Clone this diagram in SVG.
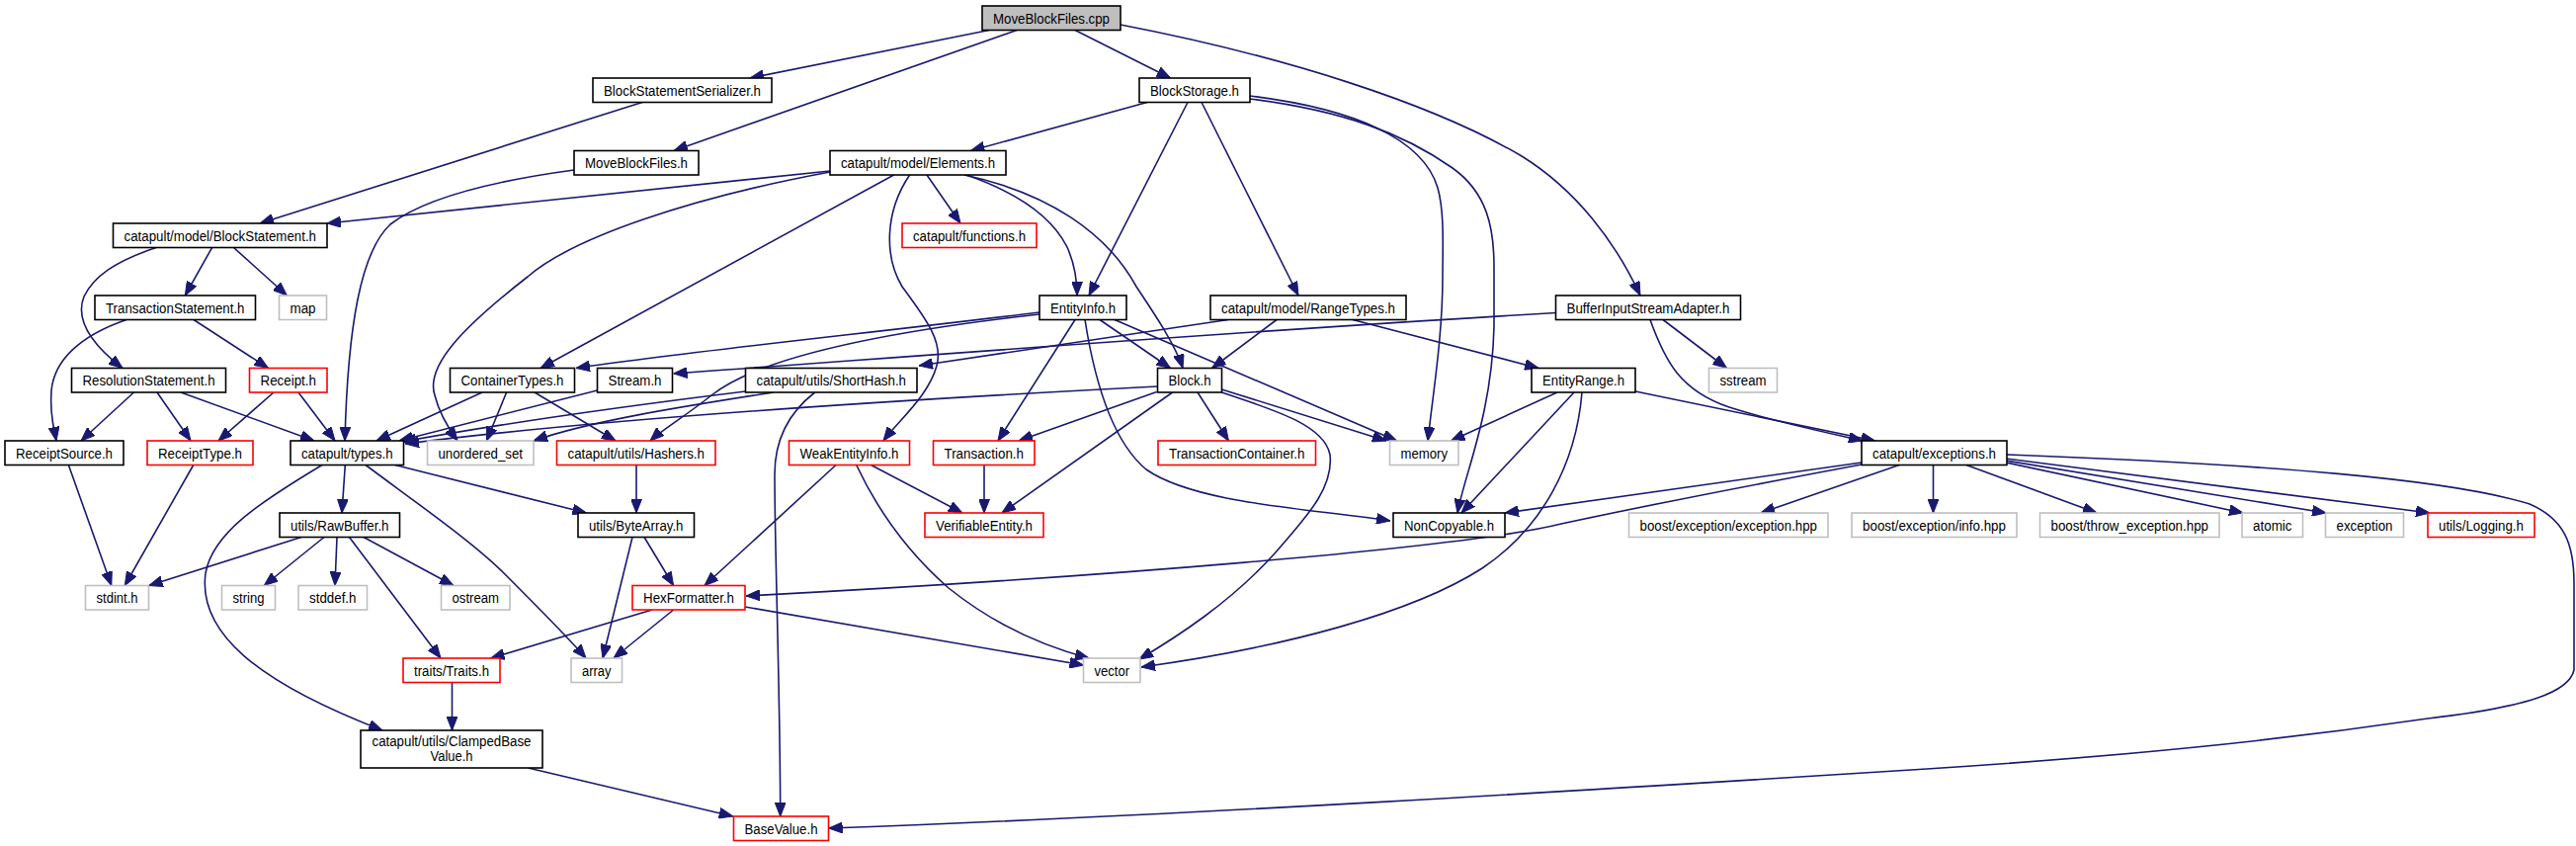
<svg xmlns="http://www.w3.org/2000/svg" width="2607" height="856" viewBox="0 0 2607 856">
<style>
rect{fill:#fff;stroke:#000;stroke-width:1.6}
rect.g{stroke:#bfbfbf}
rect.r{stroke:#ff0000}
rect.root{fill:#bfbfbf}
text{font-family:"Liberation Sans",Arial,sans-serif;font-size:14px;text-anchor:middle;fill:#000}
.e path{fill:none;stroke:#191970;stroke-width:1.6;marker-end:url(#ah)}
</style>
<defs>
<marker id="ah" markerUnits="userSpaceOnUse" markerWidth="14" markerHeight="11" viewBox="0 0 14 11" refX="14" refY="5.5" orient="auto"><path d="M0,0 L14,5.5 L0,11 z" fill="#191970" stroke="#191970" stroke-width="1"/></marker>
</defs>
<rect x="0" y="0" width="2607" height="856" style="fill:#fff;stroke:none"/>
<g class="e" id="connectors">
<path d="M1001,30.5 L759,79"/>
<path d="M1029,30.5 L682,152.5"/>
<path d="M1088,30.5 L1184.5,79"/>
<path d="M1134,25 C1300,57 1450,105 1540,158 C1595,192 1635,245 1660,299"/>
<path d="M650,103.5 L263,226"/>
<path d="M581,172 C500,183 430,200 395,227 C365,255 352,330 349,446"/>
<path d="M1161,103.5 L982.5,152.5"/>
<path d="M1202,103.5 L1102,299"/>
<path d="M1216,103.5 L1314,299"/>
<path d="M1265,97 C1370,110 1440,140 1455,190 C1462,215 1460,250 1460,280 C1460,340 1450,400 1445,446"/>
<path d="M1265,100 C1360,112 1420,135 1470,170 C1505,195 1512,230 1512,270 L1512,330 C1510,420 1482,480 1475,519"/>
<path d="M840,173 L331,226"/>
<path d="M840,174 C700,200 580,240 534,280 C470,330 430,370 440,400 C445,420 455,435 463,446"/>
<path d="M904.6,177 L547,372.5"/>
<path d="M938,177 L972,226"/>
<path d="M920.6,177 C895,215 895,260 913,290 C935,320 955,345 948,370 C940,400 910,425 894,446"/>
<path d="M978,177 C1030,195 1065,220 1080,250 C1088,268 1090,285 1090,299"/>
<path d="M976,177 C1060,195 1120,235 1150,290 C1170,320 1190,350 1197,372.5"/>
<path d="M1052,316 C900,335 700,355 583,372.5"/>
<path d="M1052,318 C900,335 770,360 720,400 C695,420 670,435 658,446"/>
<path d="M1088,323.5 L1010,446"/>
<path d="M1113,323.5 L1184.5,372.5"/>
<path d="M1128,323.5 L1413.5,446"/>
<path d="M1098,323.5 C1110,400 1130,450 1160,475 C1210,510 1330,515 1407,527"/>
<path d="M1243,323.5 L930,370"/>
<path d="M1292,323.5 L1226.6,372.5"/>
<path d="M1369,323.5 L1557,372.5"/>
<path d="M1574.5,316.5 C1300,332 1000,355 681.6,378"/>
<path d="M1683,323.5 L1747.5,372.5"/>
<path d="M1670,323.5 C1685,365 1700,395 1750,412 C1800,428 1860,440 1885,446"/>
<path d="M1576,397 L1468.5,446"/>
<path d="M1593,397 L1479,519"/>
<path d="M1601,397 C1595,470 1560,535 1500,575 C1430,620 1300,655 1155,675"/>
<path d="M1655,396 L1897.6,446"/>
<path d="M1884,468 L1523,519"/>
<path d="M1884,470 C1750,495 1650,515 1580,530 C1480,555 1100,585 755,603"/>
<path d="M1922,470.5 L1782,519"/>
<path d="M1956.5,470.5 L1956.5,519"/>
<path d="M1990,470.5 L2122,519"/>
<path d="M2030,468 L2270,519"/>
<path d="M2030,466 L2354,519"/>
<path d="M2030,464 L2459,519"/>
<path d="M2031,460 C2300,470 2480,485 2560,510 C2595,525 2605,550 2605,590 L2605,678 C2600,700 2560,715 2457,727 C2300,750 2150,765 1950,778 C1600,800 1200,825 838.6,838"/>
<path d="M660,617 L496.6,666"/>
<path d="M681.6,617 L621,666"/>
<path d="M754,614 L1096.5,673"/>
<path d="M846,470.5 L713,592.5"/>
<path d="M881.5,470.5 L974,519"/>
<path d="M866.7,470.5 C890,520 920,560 960,595 C1010,635 1060,655 1102,666"/>
<path d="M996,470.5 L996,519"/>
<path d="M1171.5,391 C900,405 600,425 410,449"/>
<path d="M488,397 L381,446"/>
<path d="M512.6,397 L492.4,446"/>
<path d="M541,397 L623,446"/>
<path d="M604.5,395 L404,446"/>
<path d="M754.5,396 C600,415 500,430 407,447"/>
<path d="M782.6,397 C700,410 600,425 540,446"/>
<path d="M824.7,397 C795,420 784,450 784,480 C784,560 789.7,700 789.7,826"/>
<path d="M135.5,397 L82,446"/>
<path d="M159,397 L193,446"/>
<path d="M183,397 L318,446"/>
<path d="M277,397 L221,446"/>
<path d="M302,397 L339,446"/>
<path d="M128,323.5 C80,340 55,365 52,395 C50,420 55,435 57,446"/>
<path d="M196,323.5 L271.5,372.5"/>
<path d="M214.6,250.5 L187.3,299"/>
<path d="M236.5,250.5 L290.4,299"/>
<path d="M158,250.5 C115,265 95,280 85,300 C75,325 95,350 124,372.5"/>
<path d="M349.3,470.5 L346,519"/>
<path d="M399.8,470.5 L593.4,519"/>
<path d="M370,470.5 C430,515 480,550 510,580 C550,620 575,645 593,666"/>
<path d="M326,470.5 C260,510 215,540 208,580 C200,640 260,690 387,739"/>
<path d="M305,543.5 L150.7,592.5"/>
<path d="M328,543.5 L267.3,592.5"/>
<path d="M341,543.5 L339,592.5"/>
<path d="M368,543.5 L459,592.5"/>
<path d="M353.5,543.5 L446,666"/>
<path d="M69.4,470.5 L112.8,592.5"/>
<path d="M195.7,470.5 L126.3,592.5"/>
<path d="M644,470.5 L644,519"/>
<path d="M640,543.5 L610,666"/>
<path d="M652,543.5 L681.6,592.5"/>
<path d="M457.5,690.5 L457.5,739"/>
<path d="M534.5,777 L741.7,826"/>
<path d="M1170.6,396.5 L1031,446"/>
<path d="M1186.6,397 L1014,519"/>
<path d="M1212,397 L1243.4,446"/>
<path d="M1236.3,394 L1403,446"/>
<path d="M1236.3,397 C1290,415 1340,430 1346,460 C1350,495 1320,525 1290,560 C1245,610 1190,645 1153,667"/>
</g>
<g id="n_cpp"><rect class="root" x="994" y="6" width="140" height="24.5"/><text x="1064" y="23.5" textLength="118" lengthAdjust="spacingAndGlyphs">MoveBlockFiles.cpp</text></g>
<g id="n_bss"><rect x="600" y="79" width="181" height="24.5"/><text x="690.5" y="96.5" textLength="159" lengthAdjust="spacingAndGlyphs">BlockStatementSerializer.h</text></g>
<g id="n_bstor"><rect x="1153" y="79" width="112" height="24.5"/><text x="1209" y="96.5" textLength="90" lengthAdjust="spacingAndGlyphs">BlockStorage.h</text></g>
<g id="n_mbfh"><rect x="581" y="152.5" width="126" height="24.5"/><text x="644" y="170" textLength="104" lengthAdjust="spacingAndGlyphs">MoveBlockFiles.h</text></g>
<g id="n_elem"><rect x="840" y="152.5" width="178" height="24.5"/><text x="929" y="170" textLength="156" lengthAdjust="spacingAndGlyphs">catapult/model/Elements.h</text></g>
<g id="n_bstmt"><rect x="114.5" y="226" width="216.5" height="24.5"/><text x="222.75" y="243.5" textLength="194.5" lengthAdjust="spacingAndGlyphs">catapult/model/BlockStatement.h</text></g>
<g id="n_func"><rect class="r" x="913" y="226" width="136" height="24.5"/><text x="981" y="243.5" textLength="114" lengthAdjust="spacingAndGlyphs">catapult/functions.h</text></g>
<g id="n_txstmt"><rect x="96" y="299" width="162.5" height="24.5"/><text x="177.25" y="316.5" textLength="140.5" lengthAdjust="spacingAndGlyphs">TransactionStatement.h</text></g>
<g id="n_map"><rect class="g" x="282.5" y="299" width="48" height="24.5"/><text x="306.5" y="316.5" textLength="26" lengthAdjust="spacingAndGlyphs">map</text></g>
<g id="n_einfo"><rect x="1052" y="299" width="88" height="24.5"/><text x="1096" y="316.5" textLength="66" lengthAdjust="spacingAndGlyphs">EntityInfo.h</text></g>
<g id="n_rtypes"><rect x="1225" y="299" width="198" height="24.5"/><text x="1324" y="316.5" textLength="176" lengthAdjust="spacingAndGlyphs">catapult/model/RangeTypes.h</text></g>
<g id="n_bisa"><rect x="1574.5" y="299" width="187" height="24.5"/><text x="1668" y="316.5" textLength="165" lengthAdjust="spacingAndGlyphs">BufferInputStreamAdapter.h</text></g>
<g id="n_resstmt"><rect x="72.5" y="372.5" width="156" height="24.5"/><text x="150.5" y="390" textLength="134" lengthAdjust="spacingAndGlyphs">ResolutionStatement.h</text></g>
<g id="n_receipt"><rect class="r" x="252.5" y="372.5" width="78.5" height="24.5"/><text x="291.75" y="390" textLength="56.5" lengthAdjust="spacingAndGlyphs">Receipt.h</text></g>
<g id="n_ct"><rect x="455.5" y="372.5" width="126" height="24.5"/><text x="518.5" y="390" textLength="104" lengthAdjust="spacingAndGlyphs">ContainerTypes.h</text></g>
<g id="n_stream"><rect x="604.5" y="372.5" width="76" height="24.5"/><text x="642.5" y="390" textLength="54" lengthAdjust="spacingAndGlyphs">Stream.h</text></g>
<g id="n_sh"><rect x="754.5" y="372.5" width="173.5" height="24.5"/><text x="841.25" y="390" textLength="151.5" lengthAdjust="spacingAndGlyphs">catapult/utils/ShortHash.h</text></g>
<g id="n_block"><rect x="1171.5" y="372.5" width="65" height="24.5"/><text x="1204" y="390" textLength="43" lengthAdjust="spacingAndGlyphs">Block.h</text></g>
<g id="n_er"><rect x="1550" y="372.5" width="105" height="24.5"/><text x="1602.5" y="390" textLength="83" lengthAdjust="spacingAndGlyphs">EntityRange.h</text></g>
<g id="n_sstream"><rect class="g" x="1729.5" y="372.5" width="69" height="24.5"/><text x="1764" y="390" textLength="47" lengthAdjust="spacingAndGlyphs">sstream</text></g>
<g id="n_rs"><rect x="5" y="446" width="120" height="24.5"/><text x="65" y="463.5" textLength="98" lengthAdjust="spacingAndGlyphs">ReceiptSource.h</text></g>
<g id="n_rt"><rect class="r" x="149" y="446" width="107" height="24.5"/><text x="202.5" y="463.5" textLength="85" lengthAdjust="spacingAndGlyphs">ReceiptType.h</text></g>
<g id="n_types"><rect x="294" y="446" width="114.5" height="24.5"/><text x="351.25" y="463.5" textLength="92.5" lengthAdjust="spacingAndGlyphs">catapult/types.h</text></g>
<g id="n_uset"><rect class="g" x="432.5" y="446" width="107.5" height="24.5"/><text x="486.25" y="463.5" textLength="85.5" lengthAdjust="spacingAndGlyphs">unordered_set</text></g>
<g id="n_hashers"><rect class="r" x="563.5" y="446" width="160.5" height="24.5"/><text x="643.75" y="463.5" textLength="138.5" lengthAdjust="spacingAndGlyphs">catapult/utils/Hashers.h</text></g>
<g id="n_wei"><rect class="r" x="798.5" y="446" width="122" height="24.5"/><text x="859.5" y="463.5" textLength="100" lengthAdjust="spacingAndGlyphs">WeakEntityInfo.h</text></g>
<g id="n_tx"><rect class="r" x="944.5" y="446" width="102.5" height="24.5"/><text x="995.75" y="463.5" textLength="80.5" lengthAdjust="spacingAndGlyphs">Transaction.h</text></g>
<g id="n_tc"><rect class="r" x="1172" y="446" width="159.5" height="24.5"/><text x="1251.75" y="463.5" textLength="137.5" lengthAdjust="spacingAndGlyphs">TransactionContainer.h</text></g>
<g id="n_memory"><rect class="g" x="1406.5" y="446" width="69.5" height="24.5"/><text x="1441.25" y="463.5" textLength="47.5" lengthAdjust="spacingAndGlyphs">memory</text></g>
<g id="n_exc"><rect x="1884" y="446" width="147" height="24.5"/><text x="1957.5" y="463.5" textLength="125" lengthAdjust="spacingAndGlyphs">catapult/exceptions.h</text></g>
<g id="n_rawbuf"><rect x="283" y="519" width="121.5" height="24.5"/><text x="343.75" y="536.5" textLength="99.5" lengthAdjust="spacingAndGlyphs">utils/RawBuffer.h</text></g>
<g id="n_ba"><rect x="585" y="519" width="117.5" height="24.5"/><text x="643.75" y="536.5" textLength="95.5" lengthAdjust="spacingAndGlyphs">utils/ByteArray.h</text></g>
<g id="n_ve"><rect class="r" x="936" y="519" width="120" height="24.5"/><text x="996" y="536.5" textLength="98" lengthAdjust="spacingAndGlyphs">VerifiableEntity.h</text></g>
<g id="n_nc"><rect x="1410" y="519" width="113" height="24.5"/><text x="1466.5" y="536.5" textLength="91" lengthAdjust="spacingAndGlyphs">NonCopyable.h</text></g>
<g id="n_bee"><rect class="g" x="1648.5" y="519" width="201.5" height="24.5"/><text x="1749.25" y="536.5" textLength="179.5" lengthAdjust="spacingAndGlyphs">boost/exception/exception.hpp</text></g>
<g id="n_bei"><rect class="g" x="1874" y="519" width="167" height="24.5"/><text x="1957.5" y="536.5" textLength="145" lengthAdjust="spacingAndGlyphs">boost/exception/info.hpp</text></g>
<g id="n_bte"><rect class="g" x="2064.5" y="519" width="181.5" height="24.5"/><text x="2155.25" y="536.5" textLength="159.5" lengthAdjust="spacingAndGlyphs">boost/throw_exception.hpp</text></g>
<g id="n_atomic"><rect class="g" x="2269" y="519" width="61.5" height="24.5"/><text x="2299.75" y="536.5" textLength="39.5" lengthAdjust="spacingAndGlyphs">atomic</text></g>
<g id="n_exception"><rect class="g" x="2353.5" y="519" width="79" height="24.5"/><text x="2393" y="536.5" textLength="57" lengthAdjust="spacingAndGlyphs">exception</text></g>
<g id="n_logging"><rect class="r" x="2457" y="519" width="108" height="24.5"/><text x="2511" y="536.5" textLength="86" lengthAdjust="spacingAndGlyphs">utils/Logging.h</text></g>
<g id="n_stdint"><rect class="g" x="86.5" y="592.5" width="64" height="24.5"/><text x="118.5" y="610" textLength="42" lengthAdjust="spacingAndGlyphs">stdint.h</text></g>
<g id="n_string"><rect class="g" x="224.5" y="592.5" width="54" height="24.5"/><text x="251.5" y="610" textLength="32" lengthAdjust="spacingAndGlyphs">string</text></g>
<g id="n_stddef"><rect class="g" x="302" y="592.5" width="69.5" height="24.5"/><text x="336.75" y="610" textLength="47.5" lengthAdjust="spacingAndGlyphs">stddef.h</text></g>
<g id="n_ostream"><rect class="g" x="446.5" y="592.5" width="69.5" height="24.5"/><text x="481.25" y="610" textLength="47.5" lengthAdjust="spacingAndGlyphs">ostream</text></g>
<g id="n_hex"><rect class="r" x="640" y="592.5" width="114" height="24.5"/><text x="697" y="610" textLength="92" lengthAdjust="spacingAndGlyphs">HexFormatter.h</text></g>
<g id="n_traits"><rect class="r" x="408" y="666" width="98" height="24.5"/><text x="457" y="683.5" textLength="76" lengthAdjust="spacingAndGlyphs">traits/Traits.h</text></g>
<g id="n_array"><rect class="g" x="578" y="666" width="51.5" height="24.5"/><text x="603.75" y="683.5" textLength="29.5" lengthAdjust="spacingAndGlyphs">array</text></g>
<g id="n_vector"><rect class="g" x="1096.5" y="666" width="57.5" height="24.5"/><text x="1125.25" y="683.5" textLength="35.5" lengthAdjust="spacingAndGlyphs">vector</text></g>
<g id="n_cbv"><rect x="365" y="739" width="184" height="38"/><text x="457" y="755" textLength="161" lengthAdjust="spacingAndGlyphs">catapult/utils/ClampedBase</text><text x="457" y="769.5" textLength="43" lengthAdjust="spacingAndGlyphs">Value.h</text></g>
<g id="n_bv"><rect class="r" x="742.5" y="826" width="96" height="24.5"/><text x="790.5" y="843.5" textLength="74" lengthAdjust="spacingAndGlyphs">BaseValue.h</text></g>
</svg>
